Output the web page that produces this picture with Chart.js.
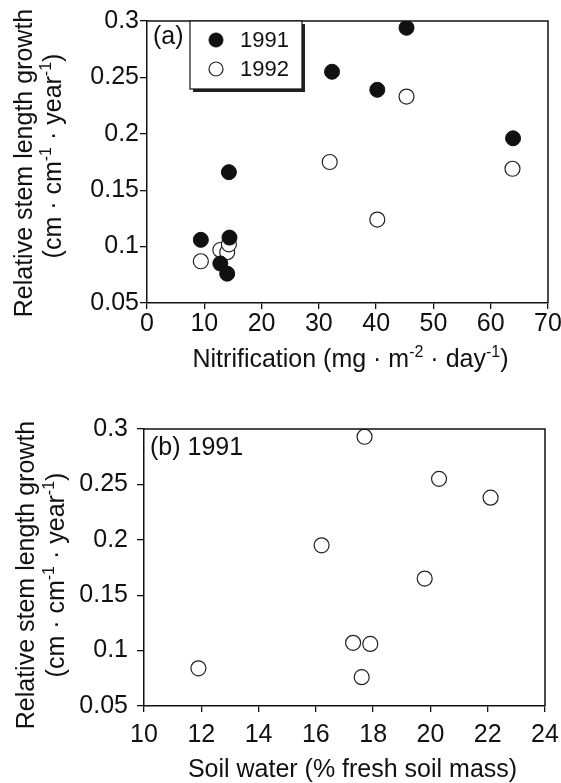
<!DOCTYPE html>
<html>
<head>
<meta charset="utf-8">
<script src="https://cdn.jsdelivr.net/npm/chart.js@4.4.1/dist/chart.umd.min.js"></script>
<style>
  body { margin: 0; background: #fff; }
  #wrap { position: relative; width: 561px; height: 783px; }
  canvas { position: absolute; left: 0; }
</style>
</head>
<body>
<div id="wrap">
  <canvas id="nitrif" width="561" height="391" style="top:0"></canvas>
  <canvas id="soil" width="561" height="392" style="top:391px"></canvas>
</div>
<script>
// stem growth vs nitrification, both years
const nitrification1991 = [9.4, 12.8, 14.0, 14.4, 14.3, 32.3, 40.2, 45.3, 63.9];
const growth1991        = [0.106, 0.085, 0.076, 0.108, 0.166, 0.255, 0.239, 0.294, 0.196];
const nitrification1992 = [9.4, 12.8, 14.0, 14.3, 31.9, 40.2, 45.3, 63.8];
const growth1992        = [0.087, 0.097, 0.095, 0.102, 0.175, 0.124, 0.233, 0.169];

// stem growth vs soil water, 1991 only
const soilWater1991  = [11.9, 16.2, 17.3, 17.6, 17.7, 17.9, 19.8, 20.3, 22.1];
const soilGrowth1991 = [0.084, 0.195, 0.107, 0.076, 0.293, 0.106, 0.165, 0.255, 0.238];

const growthTicks  = [0.05, 0.1, 0.15, 0.2, 0.25, 0.3];
const nitrifTicks  = [0, 10, 20, 30, 40, 50, 60, 70];
const soilTicks    = [10, 12, 14, 16, 18, 20, 22, 24];

const FONT = '"Liberation Sans", Arial, Helvetica, sans-serif';
const SIZE = 25;
const INK = '#111';

const toXY = (xs, ys) => xs.map((x, i) => ({ x: x, y: ys[i] }));

// draws a run of text pieces, some raised as superscripts, centred on x
function drawRich(ctx, parts, x, y, size) {
  const supSize = Math.round(size * 0.62);
  let total = 0;
  parts.forEach(p => {
    ctx.font = (p.sup ? supSize : size) + 'px ' + FONT;
    p.w = ctx.measureText(p.t).width;
    total += p.w;
  });
  let cx = x - total / 2;
  ctx.textAlign = 'left';
  ctx.textBaseline = 'alphabetic';
  parts.forEach(p => {
    ctx.font = (p.sup ? supSize : size) + 'px ' + FONT;
    ctx.fillText(p.t, cx, p.sup ? y - size * 0.42 : y);
    cx += p.w;
  });
}

const yTitleLines = [
  [{ t: 'Relative stem length growth' }],
  [{ t: '(cm · cm' }, { t: '-1', sup: true }, { t: ' · year' }, { t: '-1', sup: true }, { t: ')' }]
];

// frame, axis titles, panel tag and legend box
const decorations = {
  id: 'decorations',
  afterDraw(chart, args, opts) {
    const ctx = chart.ctx;
    const a = chart.chartArea;
    ctx.save();
    ctx.strokeStyle = INK;
    ctx.lineWidth = 1.5;
    ctx.beginPath();
    ctx.moveTo(a.left, a.top);
    ctx.lineTo(a.right, a.top);
    ctx.lineTo(a.right, a.bottom);
    ctx.stroke();

    ctx.fillStyle = INK;
    // y title, two rotated lines
    opts.yTitleX.forEach((tx, i) => {
      ctx.save();
      ctx.translate(tx, opts.yTitleY[i]);
      ctx.rotate(-Math.PI / 2);
      drawRich(ctx, yTitleLines[i], 0, 9, SIZE);
      ctx.restore();
    });
    // x title
    drawRich(ctx, opts.xTitle, (a.left + a.right) / 2 + opts.xTitleDx, opts.xTitleY, SIZE);

    // panel tag
    ctx.font = SIZE + 'px ' + FONT;
    ctx.textAlign = 'left';
    ctx.textBaseline = 'middle';
    ctx.fillText(opts.tag, a.left + 6, a.top + opts.tagDy);

    if (opts.legend) {
      const L = opts.legend;
      ctx.fillStyle = '#222';
      ctx.fillRect(L.x + 3, L.y + 3, L.w, L.h);
      ctx.fillStyle = '#fff';
      ctx.fillRect(L.x, L.y, L.w, L.h);
      ctx.strokeStyle = INK;
      ctx.lineWidth = 1.2;
      ctx.strokeRect(L.x, L.y, L.w, L.h);
      chart.data.datasets.forEach((ds, i) => {
        const cy = L.y + 19 + i * 29;
        ctx.beginPath();
        ctx.arc(L.x + 26, cy, 7, 0, Math.PI * 2);
        ctx.fillStyle = ds.backgroundColor;
        ctx.fill();
        ctx.strokeStyle = ds.borderColor;
        ctx.lineWidth = ds.borderWidth;
        ctx.stroke();
        ctx.fillStyle = INK;
        ctx.font = '22px ' + FONT;
        ctx.textBaseline = 'middle';
        ctx.fillText(ds.label, L.x + 50, cy + 1);
      });
    }
    ctx.restore();
  }
};

function xAxis(min, max, ticks, height, pad) {
  return {
    type: 'linear', min: min, max: max,
    afterBuildTicks: s => { s.ticks = ticks.map(v => ({ value: v })); },
    afterFit: s => { s.height = height; s.paddingLeft = 0; s.paddingRight = 0; },
    ticks: { color: INK, font: { family: FONT, size: SIZE }, padding: pad, maxRotation: 0, autoSkip: false },
    grid: { drawOnChartArea: false, tickLength: 6, color: INK, lineWidth: 1.3 },
    border: { color: INK, width: 1.5 }
  };
}

function yAxis(width, pad) {
  return {
    type: 'linear', min: 0.05, max: 0.3,
    afterBuildTicks: s => { s.ticks = growthTicks.map(v => ({ value: v })); },
    afterFit: s => { s.width = width; s.paddingTop = 0; s.paddingBottom = 0; },
    ticks: { color: INK, font: { family: FONT, size: SIZE }, padding: pad, callback: v => String(v) },
    grid: { drawOnChartArea: false, tickLength: 7, color: INK, lineWidth: 1.3 },
    border: { color: INK, width: 1.5 }
  };
}

const filled = { backgroundColor: '#111', borderColor: '#111', borderWidth: 1, pointRadius: 7.5 };
const hollow = { backgroundColor: '#fff', borderColor: '#222', borderWidth: 1.2, pointRadius: 7.5 };

new Chart(document.getElementById('nitrif'), {
  type: 'scatter',
  data: {
    datasets: [
      Object.assign({ label: '1991', data: toXY(nitrification1991, growth1991) }, filled),
      Object.assign({ label: '1992', data: toXY(nitrification1992, growth1992) }, hollow)
    ]
  },
  plugins: [decorations],
  options: {
    responsive: false,
    animation: false,
    layout: { padding: { left: 0, right: 13, top: 21, bottom: 0 } },
    scales: {
      x: xAxis(0, 70, nitrifTicks, 88, 0),
      y: yAxis(147, 1)
    },
    plugins: {
      legend: { display: false },
      tooltip: { enabled: false },
      decorations: {
        tag: '(a)', tagDy: 16,
        legend: { x: 190, y: 21, w: 112, h: 68 },
        yTitleX: [23, 52], yTitleY: [163, 156],
        xTitle: [{ t: 'Nitrification (mg · m' }, { t: '-2', sup: true }, { t: ' · day' }, { t: '-1', sup: true }, { t: ')' }],
        xTitleDx: 3, xTitleY: 367
      }
    }
  }
});

new Chart(document.getElementById('soil'), {
  type: 'scatter',
  data: {
    datasets: [
      Object.assign({ label: '1991', data: toXY(soilWater1991, soilGrowth1991) }, hollow)
    ]
  },
  plugins: [decorations],
  options: {
    responsive: false,
    animation: false,
    layout: { padding: { left: 0, right: 16, top: 38, bottom: 0 } },
    scales: {
      x: xAxis(10, 24, soilTicks, 77, 8),
      y: yAxis(144, 9)
    },
    plugins: {
      legend: { display: false },
      tooltip: { enabled: false },
      decorations: {
        tag: '(b) 1991', tagDy: 19,
        yTitleX: [25, 55], yTitleY: [184, 184],
        xTitle: [{ t: 'Soil water (% fresh soil mass)' }],
        xTitleDx: 8, xTitleY: 386
      }
    }
  }
});
</script>
</body>
</html>
